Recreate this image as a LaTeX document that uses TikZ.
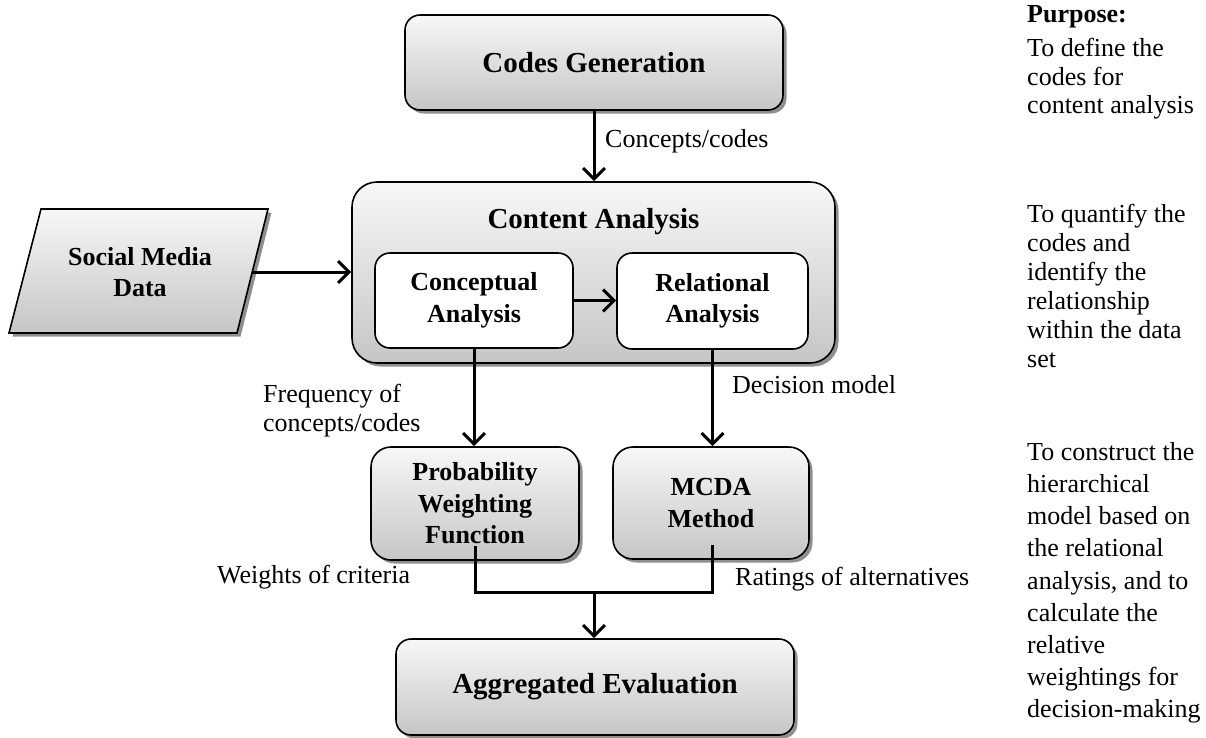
\documentclass[tikz,border=0pt]{standalone}
\usepackage{fontspec}
\setmainfont{Liberation Serif}
\usetikzlibrary{arrows.meta,shadows,calc}
\begin{document}
\begin{tikzpicture}[x=1pt,y=-1pt,
  bigfont/.style={font=\bfseries\fontsize{29}{34}\selectfont},
  midfont/.style={font=\bfseries\fontsize{26}{31.5}\selectfont},
  txtfont/.style={font=\fontsize{26}{29}\selectfont},
  gbox/.style={draw=black, line width=1.6pt, rounded corners=15pt,
    top color=gray!6, bottom color=gray!45,
    drop shadow={shadow xshift=3.5pt, shadow yshift=-3.5pt, fill=black!55, opacity=0.8},
    align=center, inner sep=0pt, midfont},
  wbox/.style={draw=black, line width=1.6pt, rounded corners=15pt, fill=white,
    align=center, inner sep=0pt, midfont},
  arr/.style={line width=3pt, -{Straight Barb[length=11pt,width=22pt,line width=3pt]}},
  conn/.style={line width=3pt},
  lbl/.style={txtfont, inner sep=0pt, anchor=base west},
  side/.style={txtfont, inner sep=0pt, anchor=north west, align=left}
]
\useasboundingbox (0,0) rectangle (1206,737);

% Codes Generation
\node[gbox, bigfont, minimum width=378pt, minimum height=95pt] (codes) at (594,62.5) {Codes Generation};

% Content Analysis container
\node[gbox, rounded corners=25pt, minimum width=483pt, minimum height=181pt] (content) at (593.5,272.5) {};
\node[bigfont, inner sep=0pt, anchor=base] (ctitle) at (593.5,228) {Content Analysis};
\node[wbox, minimum width=198pt, minimum height=95pt] (concept) at (474,300.5) {Conceptual\\Analysis};
\node[wbox, minimum width=191pt, minimum height=96pt] (relat) at (712.5,301) {Relational\\Analysis};

% Social media data (parallelogram)
\path[draw=black, line width=1.6pt, top color=gray!6, bottom color=gray!45,
  drop shadow={shadow xshift=3.5pt, shadow yshift=-3.5pt, fill=black!55, opacity=0.8}]
  (41,209) -- (268,209) -- (237,333) -- (9,333) -- cycle;
\node[midfont, align=center, minimum width=224pt, inner sep=0pt] (smd) at (140,272) {Social Media\\Data};

% Lower boxes
\node[gbox, rounded corners=20pt, minimum width=208pt, minimum height=113pt] (pw) at (475,503.5) {Probability\\Weighting\\Function};
\node[gbox, rounded corners=20pt, minimum width=196pt, minimum height=112pt] (mcda) at (711,503) {MCDA\\Method};
\node[gbox, bigfont, minimum width=398pt, minimum height=96pt] (agg) at (595,687) {Aggregated Evaluation};

% Connectors
\draw[arr] (codes.south) -- (codes.south |- content.north);
\draw[arr] (smd.east) -- (smd.east -| content.west);
\draw[arr] (concept.east) -- (concept.east -| relat.west);
\draw[arr] (concept.south) -- (concept.south |- pw.north);
\draw[arr] (relat.south) -- (relat.south |- mcda.north);
\coordinate (join) at (594,592);
\draw[conn] ([yshift=15pt]pw.south) |- (join) -| ([yshift=15pt]relat.south |- mcda.south);
\draw[arr] (join) -- (join |- agg.north);

% Connector labels
\node[lbl] (l1) at (605,147) {Concepts/codes};
\node[lbl, align=left, anchor=north west] (l2) at (263,384) {Frequency of\\concepts/codes};
\node[lbl] (l3) at (732,393) {Decision model};
\node[lbl] (l4) at (217,583) {Weights of criteria};
\node[lbl] (l5) at (735,585) {Ratings of alternatives};

% Side notes
\node[side, font=\fontsize{26}{28.5}\selectfont] (p1) at (1027,5) {\textbf{Purpose:}\\[6pt]To define the\\codes for\\content analysis};
\node[side] (p2) at (1027,204) {To quantify the\\codes and\\identify the\\relationship\\within the data\\set};
\node[side, font=\fontsize{26}{32.2}\selectfont] (p3) at (1027,442) {To construct the\\hierarchical\\model based on\\the relational\\analysis, and to\\calculate the\\relative\\weightings for\\decision-making};
\end{tikzpicture}
\end{document}
